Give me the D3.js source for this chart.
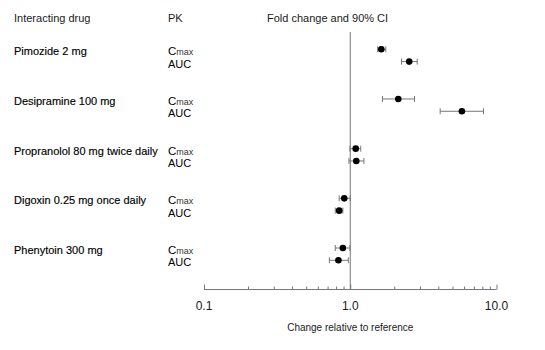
<!DOCTYPE html>
<html>
<head>
<meta charset="utf-8">
<script src="https://cdn.jsdelivr.net/npm/d3@7"></script>
<style>
  html, body { margin: 0; padding: 0; background: #fff; }
  svg { display: block; font-family: "Liberation Sans", Arial, sans-serif; }
</style>
</head>
<body>
<svg id="chart" width="545" height="350"></svg>
<script>
// Fold change (geometric mean ratio) with 90% confidence intervals
const drugs = [
  "Pimozide 2 mg",
  "Desipramine 100 mg",
  "Propranolol 80 mg twice daily",
  "Digoxin 0.25 mg once daily",
  "Phenytoin 300 mg"
];
const cmax   = [1.63, 2.13, 1.09, 0.91, 0.89];
const cmaxLo = [1.54, 1.66, 0.995, 0.84, 0.79];
const cmaxHi = [1.75, 2.75, 1.18, 1.00, 0.995];
const auc    = [2.53, 5.80, 1.10, 0.84, 0.83];
const aucLo  = [2.24, 4.12, 0.98, 0.79, 0.72];
const aucHi  = [2.87, 8.15, 1.24, 0.89, 0.97];
const tickValues = [0.1, 1, 10];
const tickLabels = ["0.1", "1.0", "10.0"];

const svg = d3.select("#chart");
const ink = "#1a1a1a";
const gray = "#777";

const x = d3.scaleLog().domain([0.1, 10]).range([204, 496.5]);
const yGroup = d3.scaleLinear().domain([0, drugs.length - 1]).range([49.3, 248]);
const rowGap = 12.3;
const axisY = 289.5;

// Rows: one Cmax and one AUC estimate per interacting drug
const rows = [];
drugs.forEach((d, i) => {
  rows.push({ drug: d, i, pk: "Cmax", v: cmax[i], lo: cmaxLo[i], hi: cmaxHi[i], y: yGroup(i) });
  rows.push({ drug: d, i, pk: "AUC", v: auc[i], lo: aucLo[i], hi: aucHi[i], y: yGroup(i) + rowGap });
});

// Column headers
const head = svg.append("g").attr("font-size", 11).attr("fill", ink);
head.append("text").attr("x", 14).attr("y", 22).text("Interacting drug");
head.append("text").attr("x", 168).attr("y", 22).text("PK");
head.append("text").attr("x", 267).attr("y", 22).text("Fold change and 90% CI");

// Drug names (slightly heavier than the headers)
svg.append("g").attr("font-size", 11).attr("fill", "#000")
  .attr("stroke", "#000").attr("stroke-width", 0.15)
  .selectAll("text").data(drugs).join("text")
  .attr("x", 14).attr("y", (d, i) => yGroup(i) + 6)
  .text(d => d);

// PK parameter labels
const pk = svg.append("g").attr("fill", "#000").selectAll("text").data(rows).join("text")
  .attr("x", 168).attr("y", d => d.y + 6).attr("font-size", 11);
pk.each(function(d) {
  const t = d3.select(this);
  if (d.pk === "Cmax") {
    t.append("tspan").attr("font-size", 11.5).text("C");
    t.append("tspan").attr("font-size", 9).attr("fill", "#333").text("max");
  } else {
    t.text(d.pk);
  }
});

// Reference line at no change
svg.append("line")
  .attr("x1", x(1)).attr("x2", x(1)).attr("y1", 32).attr("y2", axisY)
  .attr("stroke", gray).attr("stroke-width", 1);

// Log axis with upward ticks
const axis = d3.axisTop(x)
  .tickValues(d3.range(1, 10).map(k => k * 0.1).concat(d3.range(1, 11)))
  .tickSize(3).tickFormat("");
const ax = svg.append("g").attr("transform", `translate(0,${axisY})`).call(axis);
ax.select(".domain").attr("stroke", gray).attr("d", `M${x(0.1)},0H${x(10)}`);
ax.selectAll(".tick line").attr("stroke", gray)
  .attr("y2", d => tickValues.some(t => Math.abs(t - d) < 1e-9) ? -5 : -3);

svg.append("g").attr("font-size", 12).attr("fill", ink).attr("text-anchor", "middle")
  .selectAll("text").data(tickValues).join("text")
  .attr("x", d => x(d)).attr("y", axisY + 20)
  .text((d, i) => tickLabels[i]);

svg.append("text").attr("x", x(1)).attr("y", 331).attr("text-anchor", "middle")
  .attr("font-size", 10).attr("fill", ink).text("Change relative to reference");

// Confidence intervals with end caps
const ci = svg.append("g").attr("stroke", gray).attr("stroke-width", 1)
  .selectAll("g").data(rows).join("g");
ci.append("line").attr("x1", d => x(d.lo)).attr("x2", d => x(d.hi))
  .attr("y1", d => d.y).attr("y2", d => d.y);
ci.append("line").attr("x1", d => x(d.lo)).attr("x2", d => x(d.lo))
  .attr("y1", d => d.y - 3).attr("y2", d => d.y + 3);
ci.append("line").attr("x1", d => x(d.hi)).attr("x2", d => x(d.hi))
  .attr("y1", d => d.y - 3).attr("y2", d => d.y + 3);

// Point estimates
svg.append("g").selectAll("circle").data(rows).join("circle")
  .attr("cx", d => x(d.v)).attr("cy", d => d.y).attr("r", 3.3).attr("fill", "#000");
</script>
</body>
</html>
